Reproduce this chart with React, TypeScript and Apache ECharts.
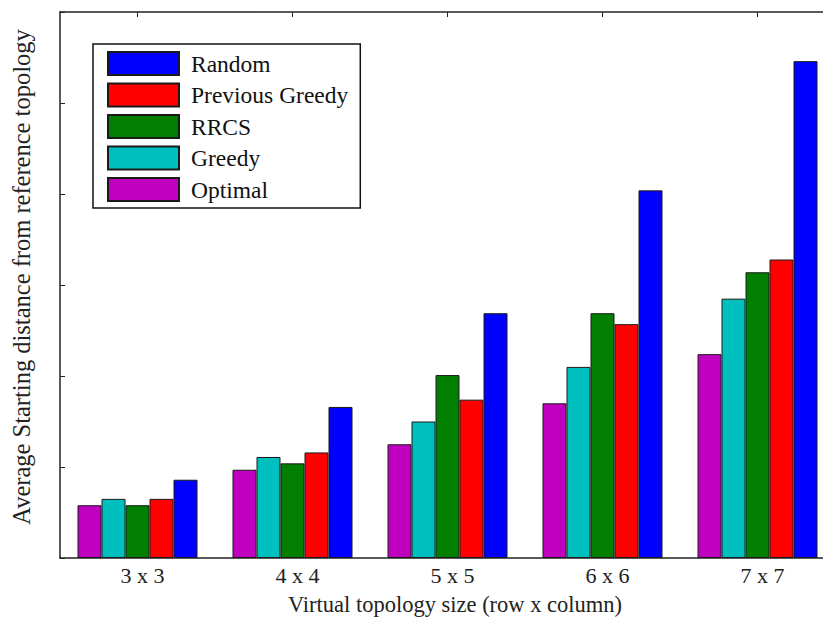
import React, { useEffect, useRef } from "react";
import * as echarts from "echarts";

const categories = ["3 x 3", "4 x 4", "5 x 5", "6 x 6", "7 x 7"];
const optimal = [0.58, 0.97, 1.25, 1.7, 2.24];
const greedy = [0.65, 1.11, 1.5, 2.1, 2.85];
const rrcs = [0.58, 1.04, 2.01, 2.69, 3.14];
const previousGreedy = [0.65, 1.16, 1.74, 2.57, 3.28];
const random = [0.86, 1.66, 2.69, 4.04, 5.46];
const legendOrder = ["Random", "Previous Greedy", "RRCS", "Greedy", "Optimal"];

const FONT = "'Liberation Serif', 'Times New Roman', serif";

export default function App() {
  const ref = useRef<HTMLDivElement>(null);
  useEffect(() => {
    if (!ref.current) return;
    const chart = echarts.init(ref.current, undefined, { renderer: "svg" });
    const mk = (name: string, data: number[], color: string) => ({
      name,
      type: "bar",
      data,
      barWidth: 24,
      barGap: "0%",
      itemStyle: { color, borderColor: "#1a1a1a", borderWidth: 1 },
      xAxisIndex: 0,
      yAxisIndex: 0,
    });
    const axisLine = { show: true, lineStyle: { color: "#222", width: 1.5 } };
    chart.setOption({
      animation: false,
      backgroundColor: "#fff",
      textStyle: { fontFamily: FONT },
      grid: {
        left: 60,
        top: 12,
        width: 775,
        bottom: 59,
        containLabel: false,
        outerBoundsMode: "none",
      },
      legend: {
        data: legendOrder,
        orient: "vertical",
        left: 93,
        top: 44,
        itemWidth: 71,
        itemHeight: 23,
        itemGap: 6.5,
        padding: [7, 12, 6, 14],
        borderColor: "#111",
        borderWidth: 1.5,
        backgroundColor: "#fff",
        icon: "rect",
        textStyle: {
          fontFamily: FONT,
          fontSize: 23.5,
          lineHeight: 23,
          color: "#111",
          padding: [0, 0, 0, 7],
        },
      },
      xAxis: [
        {
          type: "category",
          data: categories,
          position: "bottom",
          axisLine,
          axisTick: { show: true, inside: true, alignWithLabel: true, length: 5, lineStyle: { color: "#222" } },
          axisLabel: { fontFamily: FONT, fontSize: 22, color: "#222", margin: 6, padding: [0, 0, 0, 10] },
          name: "Virtual topology size (row x column)",
          nameLocation: "middle",
          nameGap: 35,
          nameTextStyle: { fontFamily: FONT, fontSize: 22.5, color: "#222", padding: [0, 0, 0, 15] },
        },
        {
          type: "category",
          data: categories,
          position: "top",
          axisLine,
          axisTick: { show: true, inside: true, alignWithLabel: true, length: 5, lineStyle: { color: "#222" } },
          axisLabel: { show: false },
        },
      ],
      yAxis: [
        {
          type: "value",
          min: 0,
          max: 6,
          interval: 1,
          axisLine,
          axisTick: { show: true, inside: true, length: 5, lineStyle: { color: "#222" } },
          axisLabel: { show: false },
          splitLine: { show: false },
          name: "Average Starting distance from reference topology",
          nameLocation: "middle",
          nameGap: 26,
          nameTextStyle: { fontFamily: FONT, fontSize: 24.5, color: "#222", padding: [0, 0, 0, 16] },
        },
      ],
      series: [
        mk("Optimal", optimal, "#bf00bf"),
        mk("Greedy", greedy, "#00bfbf"),
        mk("RRCS", rrcs, "#007f00"),
        mk("Previous Greedy", previousGreedy, "#ff0000"),
        mk("Random", random, "#0000ff"),
      ],
    });
    return () => chart.dispose();
  }, []);
  return (
    <div
      ref={ref}
      style={{ position: "fixed", left: 0, top: 0, width: 823, height: 617 }}
    />
  );
}
